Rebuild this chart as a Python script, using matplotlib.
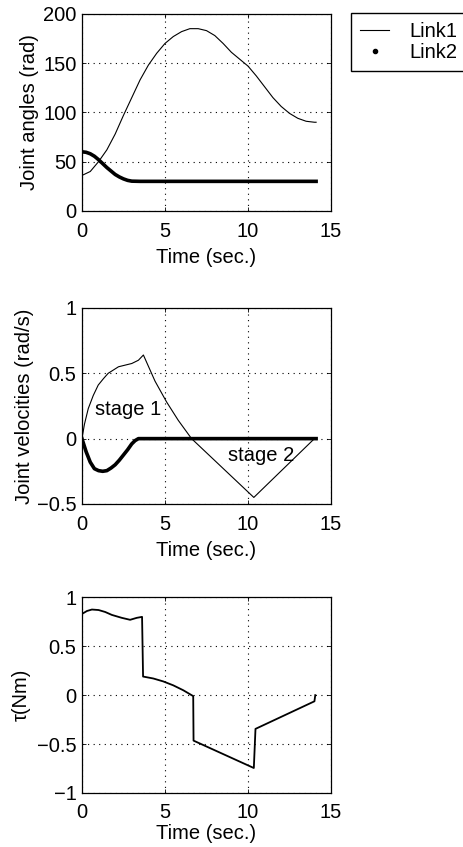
import numpy as np
import matplotlib
matplotlib.use("Agg")
import matplotlib.pyplot as plt
from matplotlib.lines import Line2D

plt.rcParams['font.family'] = ['Liberation Sans', 'DejaVu Sans']
plt.rcParams['font.size'] = 14.5

# joint angles (rad)
t_link1_ang = [0, 0.5, 1, 1.5, 2, 2.5, 3, 3.5, 4, 4.5, 5, 5.5, 6, 6.5, 7, 7.5,
               8, 8.5, 9, 9.5, 10, 10.5, 11, 11.5, 12, 12.5, 13, 13.5, 14, 14.1]
link1_ang = [36, 40, 50, 62, 78, 97, 115, 133, 148, 160, 170, 177, 182, 185, 185, 183,
             178, 170, 161, 154, 147, 137, 126, 115, 106, 99, 94, 91, 90, 90]
t_link2_ang = [0, 0.25, 0.5, 0.75, 1, 1.25, 1.5, 1.75, 2, 2.25, 2.5, 2.75, 3, 3.5, 14.1]
link2_ang = [60, 59.5, 58, 55.5, 52, 48, 44, 40.5, 37, 34.5, 32.5, 31, 30.2, 30, 30]

# joint velocities (rad/s)
t_link1_vel = [0, 0.15, 0.38, 0.68, 0.98, 1.3, 1.58, 2.2, 3.0, 3.4, 3.7, 4.4, 5.1, 5.8, 6.6, 10.35, 14.0]
link1_vel = [0, 0.11, 0.23, 0.33, 0.41, 0.46, 0.5, 0.55, 0.575, 0.6, 0.64, 0.44, 0.28, 0.14, 0, -0.45, 0]
t_link2_vel = [0, 0.25, 0.5, 0.75, 1, 1.25, 1.5, 1.75, 2, 2.25, 2.5, 2.75, 3, 3.2, 3.4, 14.1]
link2_vel = [0, -0.1, -0.18, -0.23, -0.245, -0.25, -0.245, -0.225, -0.2, -0.165, -0.125, -0.085, -0.04, -0.015, 0, 0]

# torque (Nm)
t_tau = [0, 0.3, 0.6, 1.0, 1.4, 1.8, 2.4, 2.9, 3.3, 3.62, 3.68, 4.3, 4.9, 5.5, 6.1, 6.7, 6.72, 10.35, 10.45, 14.0, 14.05]
tau = [0.83, 0.86, 0.875, 0.87, 0.85, 0.82, 0.79, 0.77, 0.79, 0.80, 0.19, 0.17, 0.14, 0.10, 0.05, -0.01, -0.465, -0.745, -0.345, -0.063, 0]

fig = plt.figure(figsize=(4.63, 8.47), dpi=100)
ax1 = fig.add_axes([0.177, 0.751, 0.538, 0.2326])
ax2 = fig.add_axes([0.177, 0.405, 0.538, 0.2314])
ax3 = fig.add_axes([0.177, 0.0638, 0.538, 0.231])

for ax in (ax1, ax2, ax3):
    ax.set_xlim(0, 15)
    ax.set_xticks([0, 5, 10, 15])
    ax.grid(True, color='k', linestyle=(0, (1, 4)), linewidth=0.8)
    ax.tick_params(direction='in', top=True, right=True, length=3, width=0.6)
    ax.tick_params(axis='x', pad=8)
    ax.tick_params(axis='y', pad=4)
    for s in ax.spines.values():
        s.set_linewidth(0.9)
    ax.set_xlabel('Time (sec.)', labelpad=5)

ax1.plot(t_link1_ang, link1_ang, color='k', lw=0.8)
ax1.plot(t_link2_ang, link2_ang, color='k', lw=2.6)
ax1.set_ylim(0, 200)
ax1.set_yticks([0, 50, 100, 150, 200])
ax1.set_ylabel('Joint angles (rad)', labelpad=3)

ax2.plot(t_link1_vel, link1_vel, color='k', lw=0.8)
ax2.plot(t_link2_vel, link2_vel, color='k', lw=2.6)
ax2.set_ylim(-0.5, 1)
ax2.set_yticks([-0.5, 0, 0.5, 1])
ax2.set_yticklabels(['\u22120.5', '0', '0.5', '1'])
ax2.set_ylabel('Joint velocities (rad/s)', labelpad=2)
ax2.text(2.8, 0.22, 'stage 1', ha='center', va='center')
ax2.text(10.8, -0.13, 'stage 2', ha='center', va='center')

ax3.plot(t_tau, tau, color='k', lw=1.3)
ax3.set_ylim(-1, 1)
ax3.set_yticks([-1, -0.5, 0, 0.5, 1])
ax3.set_yticklabels(['\u22121', '\u22120.5', '0', '0.5', '1'])
ax3.set_ylabel('\u03c4(Nm)', labelpad=4)
ax3.tick_params(axis='x', pad=7)
ax3.xaxis.labelpad = 2

handles = [Line2D([], [], color='k', lw=0.8),
           Line2D([], [], color='k', marker='.', markersize=6, ls='none')]
fig.legend(handles, ['Link1', 'Link2'], loc='upper left', bbox_to_anchor=(0.759, 0.985),
           frameon=True, fancybox=False, edgecolor='k', framealpha=1, borderaxespad=0,
           handlelength=1.4, handletextpad=1.05, labelspacing=0.1, borderpad=0.45)

fig.savefig('out.png', dpi=100)
